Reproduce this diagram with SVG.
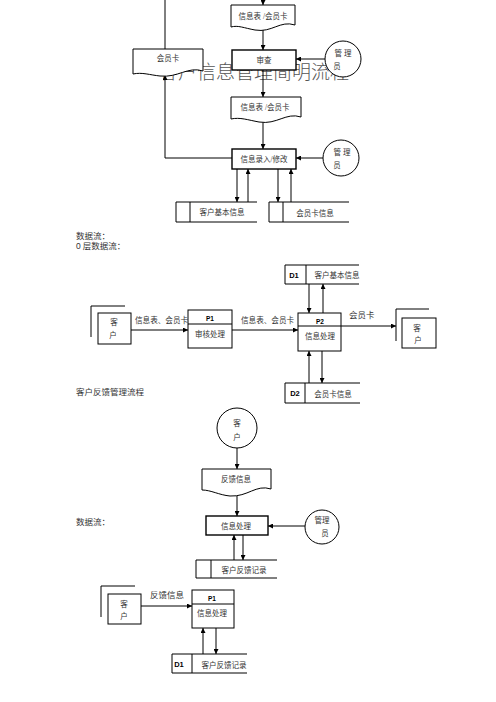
<svg xmlns="http://www.w3.org/2000/svg" width="496" height="702" viewBox="0 0 496 702">
<style>
text{font-family:"Liberation Serif","Noto Sans CJK SC",serif;fill:#333;font-size:7.5px}
.c{text-anchor:middle;dominant-baseline:central}
.h{font-size:8.5px}
.lb{font-size:7.6px}
.tag{font-family:"Liberation Sans","Noto Sans CJK SC",sans-serif;font-weight:bold;fill:#000;font-size:6.5px}
.box{fill:#fff;stroke:#000;stroke-width:1.4}
.thin{fill:#fff;stroke:#000;stroke-width:1}
.ln{fill:none;stroke:#000;stroke-width:1}
.st{fill:none;stroke:#000;stroke-width:1}
.title{font-size:19px;fill:#555;font-weight:300}
</style>
<defs>
<marker id="a" viewBox="0 0 6 6" refX="6" refY="3" markerWidth="5" markerHeight="5" markerUnits="userSpaceOnUse" orient="auto">
<path d="M0,0 L6,3 L0,6 z" fill="#000"/>
</marker>
</defs>
<rect width="496" height="702" fill="#fff"/>

<text id="title" class="title" x="159" y="79">客户信息管理简明流程</text>

<g id="connectors">
<line class="ln" x1="165" y1="0" x2="165" y2="49"/>
<line class="ln" x1="263" y1="0" x2="263" y2="5" marker-end="url(#a)"/>
<line class="ln" x1="263" y1="28" x2="263" y2="50" marker-end="url(#a)"/>
<line class="ln" x1="325" y1="59" x2="296" y2="59" marker-end="url(#a)"/>
<line class="ln" x1="263" y1="70" x2="263" y2="97" marker-end="url(#a)"/>
<line class="ln" x1="263" y1="121" x2="263" y2="149" marker-end="url(#a)"/>
<line class="ln" x1="323" y1="158" x2="296" y2="158" marker-end="url(#a)"/>
<polyline class="ln" points="232,158 165,158 165,75" marker-end="url(#a)"/>
<line class="ln" x1="237" y1="169" x2="237" y2="202" marker-end="url(#a)"/>
<line class="ln" x1="248" y1="202" x2="248" y2="169" marker-end="url(#a)"/>
<line class="ln" x1="278" y1="169" x2="278" y2="202" marker-end="url(#a)"/>
<line class="ln" x1="291" y1="202" x2="291" y2="169" marker-end="url(#a)"/>

<line class="ln" x1="131" y1="330" x2="188" y2="330" marker-end="url(#a)"/>
<line class="ln" x1="232" y1="330" x2="298" y2="330" marker-end="url(#a)"/>
<line class="ln" x1="341" y1="326" x2="396" y2="326" marker-end="url(#a)"/>
<line class="ln" x1="309" y1="284" x2="309" y2="313" marker-end="url(#a)"/>
<line class="ln" x1="323" y1="313" x2="323" y2="284" marker-end="url(#a)"/>
<line class="ln" x1="309" y1="383" x2="309" y2="351" marker-end="url(#a)"/>
<line class="ln" x1="322" y1="351" x2="322" y2="383" marker-end="url(#a)"/>

<line class="ln" x1="237" y1="448" x2="237" y2="469" marker-end="url(#a)"/>
<line class="ln" x1="237" y1="496" x2="237" y2="516" marker-end="url(#a)"/>
<line class="ln" x1="305" y1="526" x2="268" y2="526" marker-end="url(#a)"/>
<line class="ln" x1="234" y1="560" x2="234" y2="535" marker-end="url(#a)"/>
<line class="ln" x1="243" y1="535" x2="243" y2="560" marker-end="url(#a)"/>

<line class="ln" x1="141" y1="606" x2="192" y2="606" marker-end="url(#a)"/>
<line class="ln" x1="203" y1="654" x2="203" y2="628" marker-end="url(#a)"/>
<line class="ln" x1="216" y1="628" x2="216" y2="654" marker-end="url(#a)"/>

<text class="lb" x="135" y="323">信息表、会员卡</text>
<text class="lb" x="241" y="323">信息表、会员卡</text>
<text class="lb" x="349" y="318" style="font-size:8.5px">会员卡</text>
<text class="lb" x="150" y="598" style="font-size:8.5px">反馈信息</text>
</g>

<!-- Section 1 -->
<g id="doc1">
<path class="thin" d="M231,5 H295 V25 C280,20 272,33 255,30 C244,28 238,25 231,27 Z"/>
<text class="c" x="263" y="16">信息表 /会员卡</text>
</g>
<g id="review">
<rect class="box" x="232" y="50" width="64" height="20"/>
<text class="c" x="264" y="60">审查</text>
</g>
<g id="admin1">
<circle class="thin" cx="343" cy="59" r="18"/>
<text class="c" x="343" y="53">管  理</text>
<text class="c" x="337" y="66">员</text>
</g>
<g id="card-doc">
<path class="thin" d="M133,49 H203 V71 C188,66 178,78 160,76 C150,75 142,72 133,74 Z"/>
<text class="c" x="168" y="58">会员卡</text>
</g>
<g id="doc2">
<path class="thin" d="M231,97 H301 V117 C286,112 277,125 259,122 C248,120 240,117 231,119 Z"/>
<text class="c" x="265" y="107">信息表 /会员卡</text>
</g>
<g id="entry">
<rect class="box" x="232" y="149" width="64" height="20"/>
<text class="c" x="264" y="159">信息录入/修改</text>
</g>
<g id="admin2">
<circle class="thin" cx="341" cy="158" r="18"/>
<text class="c" x="342" y="152">管  理</text>
<text class="c" x="337" y="165">员</text>
</g>
<g id="store-basic">
<path class="st" d="M257,202 H176 V222 H257 M190,202 V222"/>
<text class="c" x="222" y="212">客户基本信息</text>
</g>
<g id="store-card">
<path class="st" d="M349,202 H269 V222 H349 M283,202 V222"/>
<text class="c" x="315" y="213">会员卡信息</text>
</g>

<!-- Section 2 -->
<text class="h" x="76" y="239">数据流：</text>
<text class="h" x="76" y="249"><tspan font-family="Liberation Sans,sans-serif">0</tspan> 层数据流：</text>

<g id="ext-customer1">
<path class="st" d="M125,306 H91 V337"/>
<rect class="thin" x="98" y="313" width="33" height="31"/>
<text class="c" x="114" y="322">客</text>
<text class="c" x="113" y="335">户</text>
</g>
<g id="P1a">
<rect class="thin" x="188" y="310" width="44" height="38"/>
<line class="st" x1="188" y1="324" x2="232" y2="324"/>
<text class="c tag" x="210" y="318">P1</text>
<text class="c" x="210" y="334">审核处理</text>
</g>
<g id="P2">
<rect class="thin" x="298" y="313" width="43" height="38"/>
<line class="st" x1="298" y1="326" x2="341" y2="326"/>
<text class="c tag" x="320" y="321">P2</text>
<text class="c" x="320" y="336">信息处理</text>
</g>
<g id="ext-customer2">
<path class="st" d="M429,309 H396 V341"/>
<rect class="thin" x="402" y="318" width="34" height="30"/>
<text class="c" x="417" y="328">客</text>
<text class="c" x="418" y="340">户</text>
</g>
<g id="D1a">
<path class="st" d="M359,265 H285 V284 H359 M306,265 V284"/>
<text class="c tag" x="294" y="275" style="font-size:7.5px">D1</text>
<text class="c" x="337" y="275">客户基本信息</text>
</g>
<g id="D2">
<path class="st" d="M360,383 H285 V403 H360 M305,383 V403"/>
<text class="c tag" x="295" y="393" style="font-size:7.5px">D2</text>
<text class="c" x="333" y="394">会员卡信息</text>
</g>

<!-- Section 3 -->
<text class="h" x="76" y="395">客户反馈管理流程</text>
<g id="customer-circle">
<circle class="thin" cx="237" cy="428" r="20"/>
<text class="c" x="237" y="423">客</text>
<text class="c" x="237" y="437">户</text>
</g>
<g id="feedback-doc">
<path class="thin" d="M202,469 H271 V489 C256,484 248,497 230,496 C219,495 211,490 202,490 Z"/>
<text class="c" x="236" y="479">反馈信息</text>
</g>
<text class="h" x="76" y="525">数据流：</text>
<g id="process">
<rect class="box" x="206" y="516" width="62" height="19"/>
<text class="c" x="236" y="526">信息处理</text>
</g>
<g id="admin3">
<circle class="thin" cx="322" cy="527" r="17"/>
<text class="c" x="322" y="520">管理</text>
<text class="c" x="325" y="533">员</text>
</g>
<g id="store-feedback">
<path class="st" d="M277,560 H196 V578 H277 M211,560 V578"/>
<text class="c" x="244" y="570">客户反馈记录</text>
</g>

<!-- Section 4 -->
<g id="ext-customer3">
<path class="st" d="M135,586 H101 V617"/>
<rect class="thin" x="108" y="594" width="33" height="30"/>
<text class="c" x="124" y="604">客</text>
<text class="c" x="124" y="616">户</text>
</g>
<g id="P1b">
<rect class="thin" x="192" y="590" width="42" height="38"/>
<line class="st" x1="192" y1="604" x2="234" y2="604"/>
<text class="c tag" x="212" y="598">P1</text>
<text class="c" x="212" y="613">信息处理</text>
</g>
<g id="D1b">
<path class="st" d="M247,654 H172 V673 H247 M192,654 V673"/>
<text class="c tag" x="179" y="664" style="font-size:7.5px">D1</text>
<text class="c" x="224" y="665">客户反馈记录</text>
</g>
</svg>
